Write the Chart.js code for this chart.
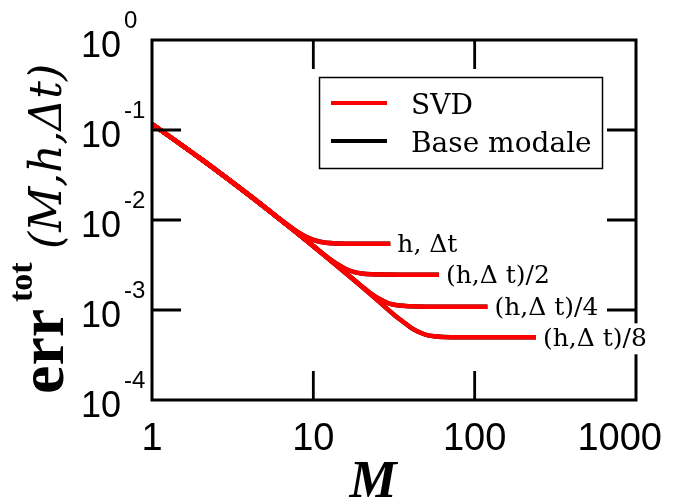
<!DOCTYPE html>
<html><head><meta charset="utf-8">
<script src="https://cdn.jsdelivr.net/npm/chart.js@4/dist/chart.umd.min.js"></script>
<style>html,body{margin:0;padding:0;background:#fff;} canvas{display:block;}</style>
</head><body>
<canvas id="c" width="684" height="500"></canvas>
<script>
// Tick values and labels
const xTicks = [1, 10, 100, 1000];
const xTickLabels = ['1', '10', '100', '1000'];
const yTicks = [1, 0.1, 0.01, 0.001, 0.0001];
const yTickExponents = ['0', '-1', '-2', '-3', '-4'];

// Series (M values and total error)
const m1 = [1, 2, 4, 6, 7, 8, 9, 10, 11, 12, 14, 17, 20, 30];
const e1 = [0.1167, 0.0480, 0.01888, 0.01074, 0.00871, 0.00736, 0.00650, 0.00600, 0.00573, 0.00558, 0.00548, 0.00545, 0.00543, 0.00543];

const m2 = [1, 2, 4, 6, 8, 10, 12, 14, 16, 18, 20, 23, 27, 35, 60];
const e2 = [0.1167, 0.0480, 0.01888, 0.01069, 0.00708, 0.00513, 0.00396, 0.00325, 0.00284, 0.00264, 0.00255, 0.00250, 0.00248, 0.00247, 0.00247];

const m3 = [1, 2, 4, 6, 8, 10, 12, 15, 18, 21, 24, 27, 30, 34, 40, 50, 120];
const e3 = [0.1167, 0.0480, 0.01888, 0.01069, 0.00708, 0.00512, 0.00391, 0.00280, 0.00214, 0.00171, 0.00143, 0.00127, 0.00117, 0.00112, 0.00110, 0.00109, 0.00109];

const m4 = [1, 2, 4, 6, 8, 10, 12, 15, 20, 25, 32, 36, 40, 45, 50, 56, 64, 80, 240];
const e4 = [0.1167, 0.0480, 0.01888, 0.01069, 0.00708, 0.00512, 0.00391, 0.00280, 0.00181, 0.00128, 0.000871, 0.000740, 0.000643, 0.000569, 0.000530, 0.000510, 0.000501, 0.000497, 0.000497];

const curveLabels = ['h, \u0394t', '(h,\u0394 t)/2', '(h,\u0394 t)/4', '(h,\u0394 t)/8'];
const seriesNames = ['SVD', 'Base modale'];
const seriesColors = ['#ff0000', '#000000'];

const curvesM = [m1, m2, m3, m4];
const curvesE = [e1, e2, e3, e4];

function pts(m, e) { return m.map((v, i) => ({ x: v, y: e[i] })); }

const datasets = [];
curvesM.forEach((m, i) => {
  datasets.push({ label: seriesNames[0], data: pts(m, curvesE[i]), borderColor: seriesColors[0],
    borderWidth: 4.5, pointRadius: 0, cubicInterpolationMode: 'monotone', fill: false });
});
curvesM.forEach((m, i) => {
  datasets.push({ label: seriesNames[1], data: pts(m, curvesE[i]), borderColor: seriesColors[1],
    borderWidth: 4.5, pointRadius: 0, cubicInterpolationMode: 'monotone', fill: false });
});

const decor = {
  id: 'decor',
  afterDatasetsDraw(chart) {
    const ctx = chart.ctx;
    const a = chart.chartArea;
    const xs = chart.scales.x, ys = chart.scales.y;
    ctx.save();
    // frame
    ctx.strokeStyle = '#000';
    ctx.lineWidth = 3;
    ctx.lineJoin = 'miter';
    ctx.strokeRect(a.left, a.top, a.right - a.left, a.bottom - a.top);
    // ticks
    const tl = 29;
    ctx.lineWidth = 2.8;
    ctx.beginPath();
    xTicks.slice(1, -1).forEach(v => {
      const px = xs.getPixelForValue(v);
      ctx.moveTo(px, a.bottom); ctx.lineTo(px, a.bottom - tl);
      ctx.moveTo(px, a.top); ctx.lineTo(px, a.top + tl);
    });
    yTicks.slice(1, -1).forEach(v => {
      const py = ys.getPixelForValue(v);
      ctx.moveTo(a.left, py); ctx.lineTo(a.left + tl, py);
      ctx.moveTo(a.right, py); ctx.lineTo(a.right - tl, py);
    });
    ctx.stroke();

    // curve labels
    ctx.font = '25px "DejaVu Serif"';
    ctx.textBaseline = 'middle';
    ctx.textAlign = 'left';
    curvesM.forEach((m, i) => {
      const e = curvesE[i];
      const px = xs.getPixelForValue(m[m.length - 1]) + 7;
      const py = ys.getPixelForValue(e[e.length - 1]) + 2;
      const w = ctx.measureText(curveLabels[i]).width;
      ctx.fillStyle = '#fff';
      ctx.fillRect(px - 2, py - 16, w + 4, 31);
      ctx.fillStyle = '#000';
      ctx.fillText(curveLabels[i], px, py);
    });

    // legend
    ctx.fillStyle = '#fff';
    ctx.fillRect(319, 77, 283, 91);
    ctx.lineWidth = 1.5;
    ctx.strokeStyle = '#000';
    ctx.strokeRect(319.5, 77.5, 283, 91);
    ctx.lineWidth = 4;
    [103, 141].forEach((y, i) => {
      ctx.strokeStyle = seriesColors[i];
      ctx.beginPath(); ctx.moveTo(331, y); ctx.lineTo(387, y); ctx.stroke();
    });
    ctx.fillStyle = '#000';
    ctx.font = '28px "DejaVu Serif"';
    ctx.textBaseline = 'alphabetic';
    ctx.fillText(seriesNames[0], 411, 114);
    ctx.fillText(seriesNames[1], 411, 152);

    // y tick labels
    yTicks.forEach((v, i) => {
      const py = ys.getPixelForValue(v);
      ctx.font = '36px "Liberation Sans"';
      ctx.textAlign = 'right';
      ctx.fillText('10', 121, py + 17);
      ctx.font = '24px "Liberation Sans"';
      ctx.textAlign = 'left';
      ctx.fillText(yTickExponents[i], 124, py - 12);
    });
    // x tick labels
    ctx.font = '38px "Liberation Sans"';
    ctx.textAlign = 'center';
    xTicks.forEach((v, i) => {
      const w = ctx.measureText(xTickLabels[i]).width;
      let cx = xs.getPixelForValue(v);
      cx = Math.min(cx, 662 - w / 2);
      ctx.fillText(xTickLabels[i], cx, 450);
    });
    // x title
    ctx.font = 'bold italic 53px "Liberation Serif"';
    ctx.textAlign = 'center';
    ctx.fillText('M', 373, 497);
    // y title
    ctx.save();
    ctx.translate(63, 394);
    ctx.rotate(-Math.PI / 2);
    ctx.textAlign = 'left';
    ctx.font = 'bold 64px "Liberation Serif"';
    ctx.fillText('err', 0, 0);
    ctx.font = 'bold 34px "Liberation Serif"';
    ctx.fillText('tot', 92, -31);
    ctx.font = 'italic 44px "DejaVu Serif"';
    ctx.fillText('(M,h,\u0394t)', 145, -2);
    ctx.restore();
    ctx.restore();
  }
};

new Chart(document.getElementById('c'), {
  type: 'line',
  data: { datasets },
  options: {
    responsive: false,
    animation: false,
    devicePixelRatio: 1,
    layout: { padding: { left: 152, right: 48, top: 40, bottom: 100 } },
    plugins: { legend: { display: false }, tooltip: { enabled: false }, title: { display: false } },
    scales: {
      x: { type: 'logarithmic', min: 1, max: 1000, display: false },
      y: { type: 'logarithmic', min: 0.0001, max: 1, display: false }
    }
  },
  plugins: [decor]
});
</script>
</body></html>
